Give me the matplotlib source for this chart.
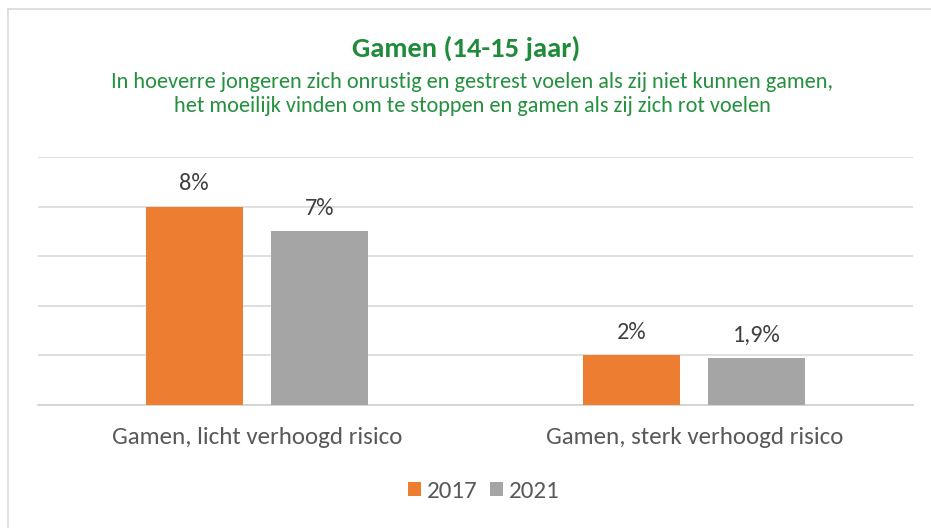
import matplotlib
matplotlib.use("Agg")
import matplotlib.pyplot as plt
import numpy as np

categories = ["Gamen, licht verhoogd risico", "Gamen, sterk verhoogd risico"]
series_names = ["2017", "2021"]
values_2017 = [8.0, 2.0]
values_2021 = [7.0, 1.9]
labels_2017 = ["8%", "2%"]
labels_2021 = ["7%", "1,9%"]

title = "Gamen (14-15 jaar)"
subtitle = ("In hoeverre jongeren zich onrustig en gestrest voelen als zij niet kunnen gamen,\n"
            "het moeilijk vinden om te stoppen en gamen als zij zich rot voelen")

orange = "#ED7D31"
grey = "#A5A5A5"
green = "#1F8B3B"
text_col = "#595959"
font = ["Carlito", "Liberation Sans Narrow", "Open Sans", "DejaVu Sans"]
plt.rcParams['font.family'] = font

W, H = 931, 528
fig = plt.figure(figsize=(W / 100, H / 100), dpi=100)
fig.patch.set_facecolor("white")

# outer border (left and top)
fig.add_artist(plt.Line2D([8 / W, 8 / W], [0, 1 - 9 / H], color="#D9D9D9", lw=1.2))
fig.add_artist(plt.Line2D([8 / W, 1], [1 - 9 / H, 1 - 9 / H], color="#D9D9D9", lw=1.2))

ax = fig.add_axes([38 / W, 1 - 405 / H, (913 - 38) / W, (405 - 157) / H])
x = np.arange(len(categories))
bw = 0.222
off = 0.143
b1 = ax.bar(x - off, values_2017, bw, color=orange, label=series_names[0], zorder=3)
b2 = ax.bar(x + off, values_2021, bw, color=grey, label=series_names[1], zorder=3)
for bars, labs in ((b1, labels_2017), (b2, labels_2021)):
    for r, lab in zip(bars, labs):
        ax.annotate(lab, (r.get_x() + r.get_width() / 2, r.get_height()),
                    xytext=(0, 9), textcoords="offset points", ha="center", va="bottom",
                    fontsize=17.5, color="#404040")

ax.set_xlim(-0.5, 1.5)
ax.set_ylim(0, 10)
ax.set_yticks([0, 2, 4, 6, 8, 10])
ax.yaxis.grid(True, color="#D9D9D9", lw=1.2, zorder=0)
ax.tick_params(axis="y", left=False, labelleft=False)
ax.tick_params(axis="x", bottom=False, labelsize=18, labelcolor=text_col, pad=12)
ax.set_xticks(x)
ax.set_xticklabels(categories)
for s in ["top", "right", "left"]:
    ax.spines[s].set_visible(False)
ax.spines["bottom"].set_color("#D0D0D0")
ax.spines["bottom"].set_linewidth(1.2)

fig.text(466 / W, 1 - 48 / H, title, ha="center", va="center", fontsize=20.5,
         fontweight="bold", color=green)
fig.text(472 / W, 1 - 94 / H, subtitle, ha="center", va="center", fontsize=16,
         color="#24913F", linespacing=1.28)

leg = fig.legend(handles=[b1, b2], labels=series_names, loc="center",
                 bbox_to_anchor=(484 / W, 1 - 491 / H), ncol=2, frameon=False,
                 fontsize=18, handlelength=0.5, handleheight=0.5, handletextpad=0.25,
                 columnspacing=0.5, labelcolor=text_col)

fig.savefig("out.png", dpi=100, facecolor="white")
